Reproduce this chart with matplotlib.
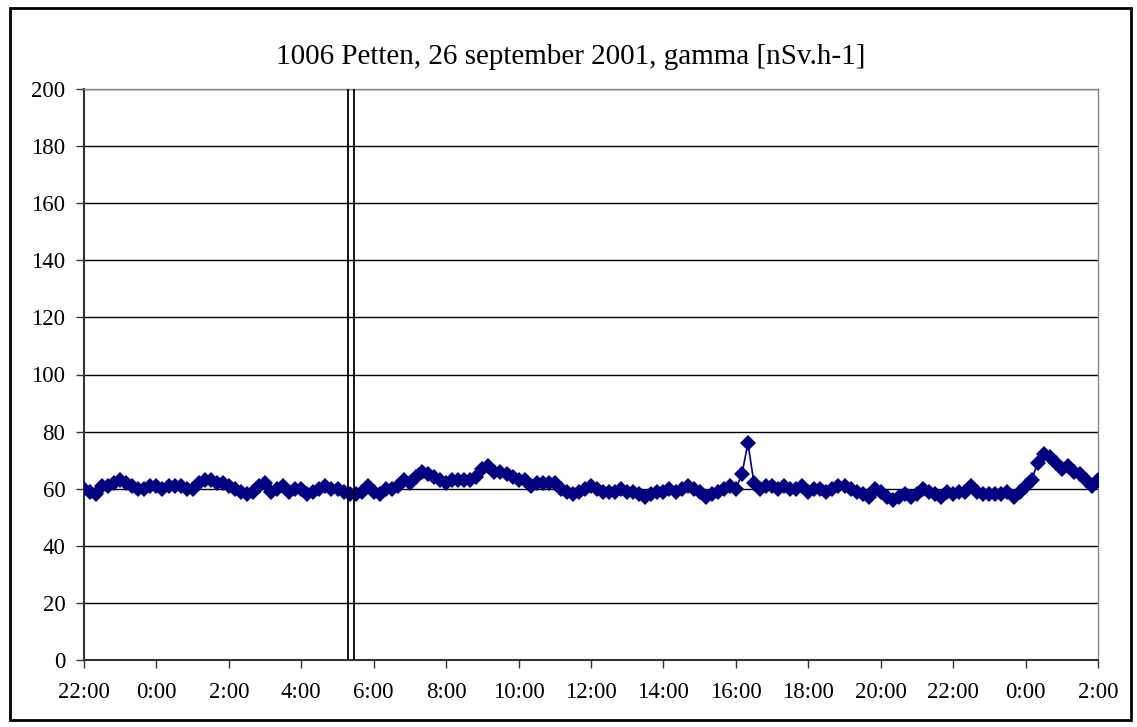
import matplotlib
matplotlib.use("Agg")
import matplotlib.pyplot as plt
from matplotlib.patches import Rectangle

# 10-minute readings, 22:00 on 25 Sep to 2:00 on 27 Sep
gamma = [
    60, 59, 58, 61, 61, 62,   # 22:00
    63, 62, 61, 60, 60, 61,   # 23:00
    61, 60, 61, 61, 61, 60,   # 0:00
    60, 62, 63, 63, 62, 62,   # 1:00
    61, 60, 59, 58, 59, 61,   # 2:00
    62, 59, 60, 61, 59, 60,   # 3:00
    60, 58, 59, 60, 61, 60,   # 4:00
    60, 59, 58, 58, 59, 61,   # 5:00
    59, 58, 60, 60, 61, 63,   # 6:00
    62, 64, 66, 65, 64, 63,   # 7:00
    62, 63, 63, 63, 63, 64,   # 8:00
    67, 68, 66, 66, 65, 64,   # 9:00
    63, 63, 61, 62, 62, 62,   # 10:00
    62, 60, 59, 58, 59, 60,   # 11:00
    61, 60, 59, 59, 59, 60,   # 12:00
    59, 59, 58, 57, 58, 59,   # 13:00
    59, 60, 59, 60, 61, 60,   # 14:00
    59, 57, 58, 59, 60, 61,   # 15:00
    60, 65, 76, 62, 60, 61,   # 16:00
    61, 60, 61, 60, 60, 61,   # 17:00
    59, 60, 60, 59, 60, 61,   # 18:00
    61, 60, 59, 58, 57, 60,   # 19:00
    59, 57, 56, 57, 58, 57,   # 20:00
    58, 60, 59, 58, 57, 59,   # 21:00
    58, 59, 59, 61, 59, 58,   # 22:00
    58, 58, 58, 59, 57, 59,   # 23:00
    61, 63, 69, 72, 71, 69,   # 0:00
    67, 68, 66, 65, 63, 61,   # 1:00
    63,                       # 2:00
]
hours = [i / 6 for i in range(len(gamma))]  # hours since 22:00

tick_hours = list(range(0, 29, 2))
tick_labels = ["22:00", "0:00", "2:00", "4:00", "6:00", "8:00", "10:00", "12:00",
               "14:00", "16:00", "18:00", "20:00", "22:00", "0:00", "2:00"]
marker_hours = [7.29, 7.46]  # double vertical line around 5:20

plt.rcParams['font.family'] = ['Liberation Serif', 'DejaVu Serif']

fig = plt.figure(figsize=(11.37, 7.27), dpi=100)
ax = fig.add_axes([84/1137, 67/727, 1014/1137, 571/727])

ax.set_axisbelow(True)
ax.yaxis.grid(True, color='black', linewidth=1)
ax.plot(hours, gamma, color='#000080', linewidth=1.2, marker='D',
        markersize=8, markeredgewidth=0, zorder=3)
for h in marker_hours:
    ax.axvline(h, color='black', linewidth=1.3, zorder=4)

ax.set_xlim(0, 28)
ax.set_ylim(0, 200)
ax.set_yticks(range(0, 201, 20))
ax.set_xticks(tick_hours)
ax.set_xticklabels(tick_labels)
ax.tick_params(axis='both', labelsize=16.5, direction='out', length=6,
               width=1, color='#333333')
ax.tick_params(axis='x', pad=10)
ax.tick_params(axis='y', pad=7.5)
for side in ['left', 'bottom']:
    ax.spines[side].set_color('#333333')
    ax.spines[side].set_linewidth(1.5)
for side in ['top', 'right']:
    ax.spines[side].set_color('#888888')
    ax.spines[side].set_linewidth(1)

fig.text(571/1137, 1 - 57/727, "1006 Petten, 26 september 2001, gamma [nSv.h-1]",
         ha='center', va='center', fontsize=21)

fig.patches.append(Rectangle((10/1137, 7/727), 1121/1137, 712/727,
                             transform=fig.transFigure, fill=False,
                             edgecolor='black', linewidth=2))

fig.savefig("out.png", dpi=100)
